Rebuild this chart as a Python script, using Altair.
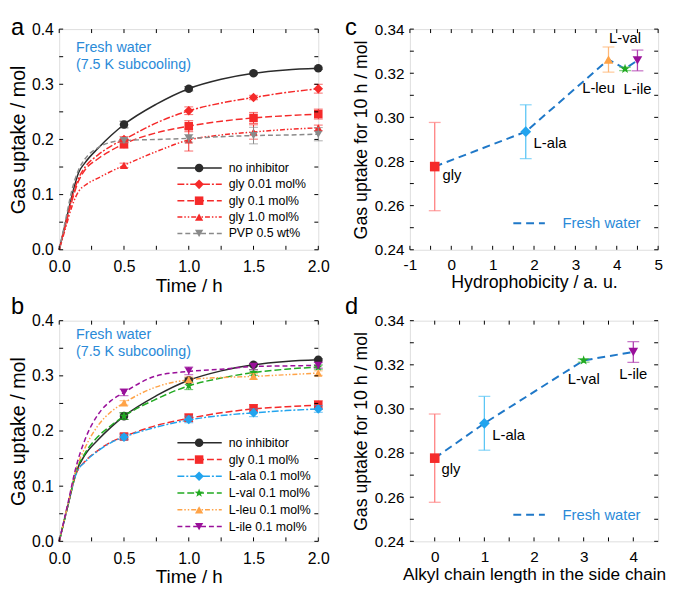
import altair as alt
import pandas as pd

FONT = "Liberation Sans"

# ---------------- Panel a : gas uptake vs time (glycine / PVP) ----------------
a_curve_t = [0, 0.05, 0.1, 0.15, 0.2, 0.3, 0.4, 0.5, 0.75, 1.0, 1.25, 1.5, 1.75, 2.0]
a_none_curve = [0, 0.050, 0.100, 0.140, 0.158, 0.184, 0.207, 0.227, 0.264, 0.292, 0.309, 0.320, 0.326, 0.329]
a_gly001_curve = [0, 0.048, 0.095, 0.130, 0.150, 0.172, 0.188, 0.200, 0.230, 0.252, 0.266, 0.276, 0.285, 0.292]
a_gly01_curve = [0, 0.046, 0.090, 0.125, 0.145, 0.165, 0.180, 0.192, 0.212, 0.224, 0.233, 0.239, 0.243, 0.246]
a_gly10_curve = [0, 0.040, 0.080, 0.106, 0.117, 0.130, 0.142, 0.153, 0.178, 0.199, 0.208, 0.2135, 0.218, 0.221]
a_pvp_curve = [0, 0.055, 0.110, 0.145, 0.165, 0.185, 0.195, 0.198, 0.200, 0.202, 0.205, 0.207, 0.208, 0.2095]

marker_t = [0.5, 1.0, 1.5, 2.0]
a_none_pts = [0.227, 0.292, 0.320, 0.329]
a_none_err = [0.006, 0.004, 0.002, 0.002]
a_gly001_pts = [0.200, 0.252, 0.276, 0.292]
a_gly001_err = [0.005, 0.007, 0.004, 0.008]
a_gly01_pts = [0.192, 0.224, 0.239, 0.246]
a_gly01_err = [0.008, 0.010, 0.010, 0.009]
a_gly10_pts = [0.153, 0.199, 0.2135, 0.221]
a_gly10_err = [0.004, 0.020, 0.013, 0.005]
a_pvp_pts = [0.198, 0.202, 0.207, 0.2095]
a_pvp_err = [0.004, 0.007, 0.015, 0.012]

# ---------------- Panel b : gas uptake vs time (amino acids) ----------------
b_curve_t = [0, 0.07, 0.13, 0.2, 0.3, 0.4, 0.5, 0.75, 1.0, 1.25, 1.5, 1.75, 2.0]
b_none_curve = [0, 0.068, 0.125, 0.157, 0.184, 0.207, 0.227, 0.264, 0.292, 0.309, 0.320, 0.326, 0.329]
b_gly_curve = [0, 0.068, 0.122, 0.145, 0.165, 0.180, 0.190, 0.210, 0.223, 0.233, 0.240, 0.244, 0.247]
b_ala_curve = [0, 0.068, 0.122, 0.144, 0.164, 0.179, 0.189, 0.207, 0.220, 0.228, 0.233, 0.237, 0.240]
b_val_curve = [0, 0.068, 0.127, 0.160, 0.190, 0.210, 0.227, 0.258, 0.282, 0.296, 0.306, 0.312, 0.316]
b_leu_curve = [0, 0.070, 0.130, 0.170, 0.210, 0.235, 0.251, 0.280, 0.293, 0.297, 0.299, 0.302, 0.305]
b_ile_curve = [0, 0.072, 0.135, 0.185, 0.230, 0.255, 0.270, 0.300, 0.308, 0.312, 0.317, 0.318, 0.319]

b_none_pts = [0.227, 0.292, 0.320, 0.329]
b_none_err = [0.006, 0.004, 0.002, 0.002]
b_gly_pts = [0.190, 0.224, 0.241, 0.247]
b_gly_err = [0.005, 0.007, 0.007, 0.008]
b_ala_pts = [0.189, 0.221, 0.233, 0.240]
b_ala_err = [0.005, 0.006, 0.007, 0.006]
b_val_pts = [0.227, 0.282, 0.306, 0.316]
b_val_err = [0.006, 0.007, 0.005, 0.004]
b_leu_pts = [0.251, 0.293, 0.299, 0.305]
b_leu_err = [0.004, 0.005, 0.005, 0.004]
b_ile_pts = [0.270, 0.309, 0.317, 0.319]
b_ile_err = [0.006, 0.007, 0.006, 0.005]

# ---------------- Panels c, d : uptake for 10 h ----------------
c_names = ["gly", "L-ala", "L-leu", "L-val", "L-ile"]
c_hydrophobicity = [-0.4, 1.8, 3.8, 4.2, 4.5]
c_uptake = [0.2777, 0.2935, 0.3262, 0.3220, 0.3258]
c_err = [0.0200, 0.0122, 0.0057, 0.0008, 0.0047]

d_names = ["gly", "L-ala", "L-val", "L-ile"]
d_chain = [0, 1, 3, 4]
d_uptake = [0.2777, 0.2935, 0.3220, 0.3258]
d_err = [0.0200, 0.0122, 0.0008, 0.0047]

# tick arrays
ab_x_ticks = [0, 0.25, 0.5, 0.75, 1.0, 1.25, 1.5, 1.75, 2.0]
ab_x_labels = [0, 0.5, 1.0, 1.5, 2.0]
ab_y_ticks = [0, 0.05, 0.1, 0.15, 0.2, 0.25, 0.3, 0.35, 0.4]
ab_y_labels = [0, 0.1, 0.2, 0.3, 0.4]
c_x_ticks = [-1, -0.5, 0, 0.5, 1, 1.5, 2, 2.5, 3, 3.5, 4, 4.5, 5]
c_x_labels = [-1, 0, 1, 2, 3, 4, 5]
d_x_ticks = [0, 0.5, 1, 1.5, 2, 2.5, 3, 3.5, 4]
d_x_labels = [0, 1, 2, 3, 4]
cd_y_ticks = [0.24, 0.25, 0.26, 0.27, 0.28, 0.29, 0.30, 0.31, 0.32, 0.33, 0.34]
cd_y_labels = [0.24, 0.26, 0.28, 0.30, 0.32, 0.34]

# ---------------- styles ----------------
BLACK = "#2b2b2b"
RED = "#f52a2a"
GREY = "#8a8a8a"
BLUE_ALA = "#22a4ee"
GREEN = "#22aa22"
ORANGE = "#ffa347"
PURPLE = "#9a109a"
LINE_BLUE = "#1f78c8"
NOTE_BLUE = "#2a8ad8"
STAR = "M0,-1L0.235,-0.324L0.951,-0.309L0.380,0.124L0.588,0.809L0,0.4L-0.588,0.809L-0.380,0.124L-0.951,-0.309L-0.235,-0.324Z"

W_AB, H_AB = 263, 224
W_CD, H_CD = 252, 224
DUMMY = pd.DataFrame({"k": [0]})
HYPHEN_LABEL = "(datum.value < 0 ? '-' : '') + abs(datum.value)"


def axis(values, fmt, title, lsize, tsize, lpad, tpad, label_expr=None):
    kw = dict(values=values, format=fmt, title=title, ticks=False, tickSize=0,
              domain=False, grid=False, labelPadding=lpad, titlePadding=tpad,
              labelFontSize=lsize, titleFontSize=tsize, labelFont=FONT, titleFont=FONT,
              labelColor="black", titleColor="black", titleFontWeight="normal",
              labelFlush=False, labelOverlap=False)
    if label_expr:
        kw["labelExpr"] = label_expr
    return alt.Axis(**kw)


def enc_factory(domain, ax, ch):
    def f(field):
        sc = alt.Scale(domain=domain, nice=False, zero=False)
        if ch == "x":
            return alt.X(field, type="quantitative", scale=sc, axis=ax)
        return alt.Y(field, type="quantitative", scale=sc, axis=ax)
    return f


def tick_layers(X, Y, xt, yt, W, H, L=4):
    dx = pd.DataFrame({"tv": xt})
    dy = pd.DataFrame({"tv": yt})
    r = dict(color="black", strokeWidth=1)
    return [
        alt.Chart(dx).mark_rule(**r).encode(x=X("tv"), y=alt.value(H), y2=alt.value(H - L)),
        alt.Chart(dx).mark_rule(**r).encode(x=X("tv"), y=alt.value(0), y2=alt.value(L)),
        alt.Chart(dy).mark_rule(**r).encode(y=Y("tv"), x=alt.value(0), x2=alt.value(L)),
        alt.Chart(dy).mark_rule(**r).encode(y=Y("tv"), x=alt.value(W), x2=alt.value(W - L)),
    ]


def mk_point(shape, size, color):
    return dict(shape=shape, filled=True, size=size, color=color, opacity=1, strokeWidth=0)


def line_kw(s):
    kw = dict(color=s["color"], strokeWidth=1.5)
    if s["dash"]:
        kw["strokeDash"] = s["dash"]
    return kw


def letter_layer(letter, x, y):
    return alt.Chart(DUMMY).mark_text(text=letter, align="left", baseline="alphabetic", fontSize=24,
                                      font=FONT, color="black").encode(x=alt.value(x), y=alt.value(y))


def time_panel(series, curve_t, letter, letter_y, leg_y0, leg_dy, note_y):
    xax = axis(ab_x_labels, ".1f", "Time / h", 16, 19, 9, 2)
    yax = axis(ab_y_labels, ".1f", "Gas uptake / mol", 16, 20, 6, 3)
    X = enc_factory([0, 2], xax, "x")
    Y = enc_factory([0, 0.4], yax, "y")
    layers = []
    for s in series:
        dfc = pd.DataFrame({"t": curve_t, "v": s["curve"]})
        layers.append(alt.Chart(dfc).mark_line(interpolate="monotone", **line_kw(s)).encode(x=X("t"), y=Y("v")))
    for s in series:
        dfp = pd.DataFrame({"t": marker_t, "v": s["pts"],
                            "lo": [p - e for p, e in zip(s["pts"], s["err"])],
                            "hi": [p + e for p, e in zip(s["pts"], s["err"])]})
        layers.append(alt.Chart(dfp).mark_rule(color=s["color"], strokeWidth=1).encode(x=X("t"), y=Y("lo"), y2=alt.Y2("hi")))
        layers.append(alt.Chart(dfp).mark_tick(orient="horizontal", color=s["color"], size=9, thickness=1).encode(x=X("t"), y=Y("lo")))
        layers.append(alt.Chart(dfp).mark_tick(orient="horizontal", color=s["color"], size=9, thickness=1).encode(x=X("t"), y=Y("hi")))
        layers.append(alt.Chart(dfp).mark_point(**mk_point(s["shape"], s["size"], s["color"])).encode(x=X("t"), y=Y("v")))
    # legend
    for i, s in enumerate(series):
        yy = leg_y0 + leg_dy * i
        layers.append(alt.Chart(DUMMY).mark_rule(**line_kw(s)).encode(x=alt.value(120), x2=alt.value(165), y=alt.value(yy)))
        layers.append(alt.Chart(DUMMY).mark_point(**mk_point(s["shape"], s["size"], s["color"])).encode(x=alt.value(142), y=alt.value(yy)))
        layers.append(alt.Chart(DUMMY).mark_text(text=s["label"], align="left", baseline="middle", fontSize=12.5, font=FONT, color="black").encode(x=alt.value(172), y=alt.value(yy)))
    layers.append(alt.Chart(DUMMY).mark_text(text=["Fresh water", "(7.5 K subcooling)"], align="left", baseline="alphabetic",
                                              fontSize=14.5, font=FONT, color=NOTE_BLUE, lineHeight=17).encode(x=alt.value(17), y=alt.value(note_y)))
    layers.append(letter_layer(letter, -49, letter_y))
    layers += tick_layers(X, Y, ab_x_ticks, ab_y_ticks, W_AB, H_AB)
    return alt.layer(*layers).properties(width=W_AB, height=H_AB)


def uptake_panel(names, xs, ys, errs, styles, xdomain, xticks, xlabels, xtitle, title_size, letter, letter_y, offsets):
    xax = axis(xlabels, "d", xtitle, 15.5, title_size, 8, 1, HYPHEN_LABEL)
    yax = axis(cd_y_labels, ".2f", "Gas uptake for 10 h / mol", 15.5, 18, 6, 4)
    X = enc_factory(xdomain, xax, "x")
    Y = enc_factory([0.24, 0.34], yax, "y")
    df = pd.DataFrame({"name": names, "x": xs, "v": ys,
                       "lo": [v - e for v, e in zip(ys, errs)],
                       "hi": [v + e for v, e in zip(ys, errs)]})
    layers = [alt.Chart(df).mark_line(color=LINE_BLUE, strokeWidth=2, strokeDash=[8, 5]).encode(x=X("x"), y=Y("v"))]
    for n in names:
        st = styles[n]
        sub = df[df["name"] == n]
        layers.append(alt.Chart(sub).mark_rule(color=st["ecolor"], strokeWidth=1.3).encode(x=X("x"), y=Y("lo"), y2=alt.Y2("hi")))
        layers.append(alt.Chart(sub).mark_tick(orient="horizontal", color=st["ecolor"], size=12, thickness=1.3).encode(x=X("x"), y=Y("lo")))
        layers.append(alt.Chart(sub).mark_tick(orient="horizontal", color=st["ecolor"], size=12, thickness=1.3).encode(x=X("x"), y=Y("hi")))
        layers.append(alt.Chart(sub).mark_point(**mk_point(st["shape"], st["size"], st["color"])).encode(x=X("x"), y=Y("v")))
        dx, dy, al = offsets[n]
        layers.append(alt.Chart(sub).mark_text(align=al, baseline="alphabetic", dx=dx, dy=dy, fontSize=15, font=FONT, color="black").encode(x=X("x"), y=Y("v"), text="name:N"))
    layers.append(alt.Chart(DUMMY).mark_rule(color=LINE_BLUE, strokeWidth=2, strokeDash=[8, 5]).encode(x=alt.value(105), x2=alt.value(137), y=alt.value(197)))
    layers.append(alt.Chart(DUMMY).mark_text(text="Fresh water", align="left", baseline="middle", fontSize=15, font=FONT, color=NOTE_BLUE).encode(x=alt.value(155), y=alt.value(197)))
    layers.append(letter_layer(letter, -66, letter_y))
    layers += tick_layers(X, Y, xticks, cd_y_ticks, W_CD, H_CD)
    return alt.layer(*layers).properties(width=W_CD, height=H_CD)


series_a = [
    dict(label="no inhibitor", color=BLACK, dash=None, shape="circle", size=75, curve=a_none_curve, pts=a_none_pts, err=a_none_err),
    dict(label="gly 0.01 mol%", color=RED, dash=[7, 2, 2, 2], shape="diamond", size=95, curve=a_gly001_curve, pts=a_gly001_pts, err=a_gly001_err),
    dict(label="gly 0.1 mol%", color=RED, dash=[7, 3], shape="square", size=75, curve=a_gly01_curve, pts=a_gly01_pts, err=a_gly01_err),
    dict(label="gly 1.0 mol%", color=RED, dash=[5, 2, 1.5, 2, 1.5, 2], shape="triangle-up", size=70, curve=a_gly10_curve, pts=a_gly10_pts, err=a_gly10_err),
    dict(label="PVP 0.5 wt%", color=GREY, dash=[5, 3], shape="triangle-down", size=70, curve=a_pvp_curve, pts=a_pvp_pts, err=a_pvp_err),
]

series_b = [
    dict(label="no inhibitor", color=BLACK, dash=None, shape="circle", size=75, curve=b_none_curve, pts=b_none_pts, err=b_none_err),
    dict(label="gly 0.1 mol%", color=RED, dash=[7, 3], shape="square", size=75, curve=b_gly_curve, pts=b_gly_pts, err=b_gly_err),
    dict(label="L-ala 0.1 mol%", color=BLUE_ALA, dash=[7, 2, 2, 2], shape="diamond", size=95, curve=b_ala_curve, pts=b_ala_pts, err=b_ala_err),
    dict(label="L-val 0.1 mol%", color=GREEN, dash=[7, 3], shape=STAR, size=90, curve=b_val_curve, pts=b_val_pts, err=b_val_err),
    dict(label="L-leu 0.1 mol%", color=ORANGE, dash=[5, 2, 1.5, 2, 1.5, 2], shape="triangle-up", size=70, curve=b_leu_curve, pts=b_leu_pts, err=b_leu_err),
    dict(label="L-ile 0.1 mol%", color=PURPLE, dash=[5, 3], shape="triangle-down", size=70, curve=b_ile_curve, pts=b_ile_pts, err=b_ile_err),
]

aa_styles = {
    "gly": dict(color=RED, ecolor="#ff8080", shape="square", size=95),
    "L-ala": dict(color=BLUE_ALA, ecolor="#5cc6f5", shape="diamond", size=120),
    "L-leu": dict(color=ORANGE, ecolor="#ffb878", shape="triangle-up", size=95),
    "L-val": dict(color=GREEN, ecolor="#55c055", shape=STAR, size=110),
    "L-ile": dict(color=PURPLE, ecolor="#b040b0", shape="triangle-down", size=95),
}
c_offsets = {"gly": (8, 14, "left"), "L-ala": (8, 17, "left"), "L-leu": (-10, 34, "center"),
             "L-val": (0, -26, "center"), "L-ile": (0, 34, "center")}
d_offsets = {"gly": (7, 16, "left"), "L-ala": (8, 17, "left"), "L-val": (0, 24, "center"),
             "L-ile": (0, 27, "center")}

pa = time_panel(series_a, a_curve_t, "a", 6, 141, 16.6, 23)
pb = time_panel(series_b, b_curve_t, "b", -7, 124, 17, 19)
pc = uptake_panel(c_names, c_hydrophobicity, c_uptake, c_err, aa_styles, [-1, 5], c_x_ticks, c_x_labels,
                  "Hydrophobicity / a. u.", 18, "c", 6, c_offsets)
pd_ = uptake_panel(d_names, d_chain, d_uptake, d_err, aa_styles, [-0.5, 4.5], d_x_ticks, d_x_labels,
                   "Alkyl chain length in the side chain", 17.5, "d", -7, d_offsets)

chart = alt.ConcatChart(concat=[pa, pc, pb, pd_], columns=2,
                        spacing=alt.RowColnumber(row=72, column=93), bounds="flush").properties(
    padding={"left": 0, "top": 3, "right": 0, "bottom": 0}
).configure_view(stroke="black", strokeWidth=1.2).configure(font=FONT)

chart.save("out.html", embed_options={"renderer": "svg", "actions": False})
